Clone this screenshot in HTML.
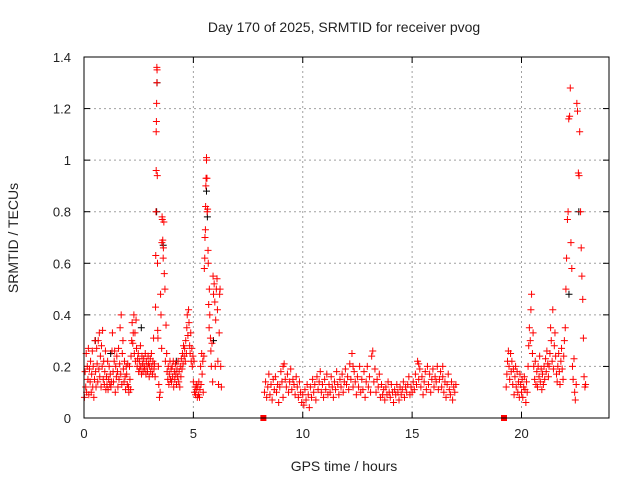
<!DOCTYPE html>
<html><head><meta charset="utf-8"><style>
html,body{margin:0;padding:0;background:#fff;}
svg{display:block;font-family:"Liberation Sans",sans-serif;}
</style></head><body>
<svg id="chart" width="640" height="480" viewBox="0 0 640 480">
<rect x="0" y="0" width="640" height="480" fill="#fff"/>
<text x="344" y="32" font-size="14" text-anchor="middle" fill="#222">Day 170 of 2025, SRMTID for receiver pvog</text>
<text x="0" y="0" font-size="14" text-anchor="middle" fill="#222" transform="translate(18,238) rotate(-90)">SRMTID / TECUs</text>
<text x="344" y="471" font-size="14" text-anchor="middle" fill="#222">GPS time / hours</text>
<g id="grid"></g>
<g id="ticks"></g>
<g id="marks"></g>
<rect x="84" y="57" width="525" height="361" fill="none" stroke="#000" stroke-width="1"/>
</svg>
<script>
const xTicks = [0, 5, 10, 15, 20];
const yTicks = [0, 0.2, 0.4, 0.6, 0.8, 1, 1.2, 1.4];
const yTickLabels = ["0", "0.2", "0.4", "0.6", "0.8", "1", "1.2", "1.4"];
const hours = [
0.02,0.05,0.08,0.1,0.12,0.15,0.18,0.2,0.22,0.25,
0.28,0.3,0.33,0.35,0.38,0.4,0.42,0.45,0.48,0.5,
0.53,0.55,0.58,0.6,0.63,0.65,0.68,0.7,0.72,0.75,
0.78,0.8,0.83,0.85,0.88,0.9,0.93,0.95,0.98,1.0,
1.03,1.05,1.08,1.1,1.13,1.15,1.18,1.2,1.23,1.25,
1.28,1.3,1.33,1.35,1.38,1.4,1.43,1.45,1.48,1.5,
1.53,1.55,1.58,1.6,1.63,1.65,1.68,1.7,1.73,1.75,
1.78,1.8,1.83,1.85,1.88,1.9,1.93,1.95,1.98,2.0,
2.03,2.05,2.08,2.1,2.13,2.15,2.18,2.2,2.23,2.25,
2.28,2.3,2.33,2.35,2.38,2.4,2.43,2.45,2.48,2.5,
2.53,2.55,2.58,2.6,2.63,2.65,2.68,2.7,2.73,2.75,
2.78,2.8,2.83,2.85,2.88,2.9,2.93,2.95,2.98,3.0,
3.03,3.05,3.08,3.1,3.13,3.15,3.18,3.2,3.22,3.25,
3.27,3.28,3.29,3.3,3.3,3.31,3.32,3.33,3.33,3.34,
3.35,3.36,3.37,3.38,3.4,3.42,3.45,3.48,3.5,3.52,
3.55,3.56,3.57,3.58,3.6,3.62,3.63,3.65,3.67,3.7,
3.72,3.75,3.78,3.8,3.83,3.85,3.88,3.9,3.93,3.95,
3.98,4.0,4.03,4.05,4.08,4.1,4.13,4.15,4.18,4.2,
4.23,4.25,4.28,4.3,4.33,4.35,4.38,4.4,4.43,4.45,
4.48,4.5,4.53,4.55,4.58,4.6,4.63,4.65,4.68,4.7,
4.72,4.75,4.78,4.8,4.83,4.85,4.88,4.9,4.93,4.95,
4.98,5.0,5.03,5.05,5.08,5.1,5.13,5.15,5.18,5.2,
5.23,5.25,5.28,5.3,5.33,5.35,5.38,5.4,5.43,5.45,
5.48,5.5,5.52,5.53,5.55,5.56,5.57,5.58,5.6,5.6,
5.62,5.63,5.65,5.67,5.68,5.7,5.72,5.73,5.75,5.78,
5.8,5.82,5.85,5.88,5.9,5.92,5.95,5.98,6.0,6.02,
6.05,6.08,6.1,6.12,6.15,6.18,6.2,6.22,6.25,6.28,
8.25,8.3,8.35,8.4,8.45,8.5,8.55,8.6,8.65,8.7,
8.75,8.8,8.85,8.9,8.95,9.0,9.05,9.1,9.15,9.2,
9.25,9.3,9.35,9.4,9.45,9.5,9.55,9.6,9.65,9.7,
9.75,9.8,9.85,9.9,9.95,10.0,10.05,10.1,10.15,10.2,
10.25,10.3,10.35,10.4,10.45,10.5,10.55,10.6,10.65,10.7,
10.75,10.8,10.85,10.9,10.95,11.0,11.05,11.1,11.15,11.2,
11.25,11.3,11.35,11.4,11.45,11.5,11.55,11.6,11.65,11.7,
11.75,11.8,11.85,11.9,11.95,12.0,12.05,12.1,12.15,12.2,
12.25,12.3,12.35,12.4,12.45,12.5,12.55,12.6,12.65,12.7,
12.75,12.8,12.85,12.9,12.95,13.0,13.05,13.1,13.15,13.2,
13.25,13.3,13.35,13.4,13.45,13.5,13.55,13.6,13.65,13.7,
13.75,13.8,13.85,13.9,13.95,14.0,14.05,14.1,14.15,14.2,
14.25,14.3,14.35,14.4,14.45,14.5,14.55,14.6,14.65,14.7,
14.75,14.8,14.85,14.9,14.95,15.0,15.05,15.1,15.15,15.2,
15.25,15.3,15.35,15.4,15.45,15.5,15.55,15.6,15.65,15.7,
15.75,15.8,15.85,15.9,15.95,16.0,16.05,16.1,16.15,16.2,
16.25,16.3,16.35,16.4,16.45,16.5,16.55,16.6,16.65,16.7,
16.75,16.8,16.85,16.9,16.95,17.0,16.4,12.3,9.1,15.3,
19.3,19.33,19.36,19.4,19.43,19.46,19.5,19.53,19.56,19.6,
19.63,19.66,19.7,19.73,19.76,19.8,19.83,19.86,19.9,19.93,
19.96,20.0,20.03,20.06,20.1,20.13,20.16,20.2,20.23,20.26,
20.3,20.33,20.36,20.4,20.43,20.46,20.5,20.53,20.56,20.6,
20.63,20.66,20.7,20.73,20.76,20.8,20.83,20.86,20.9,20.93,
20.96,21.0,21.03,21.06,21.1,21.13,21.16,21.2,21.23,21.26,
21.3,21.33,21.36,21.4,21.43,21.46,21.5,21.53,21.56,21.6,
21.63,21.66,21.7,21.73,21.76,21.8,21.83,21.86,21.9,21.93,
21.96,22.0,22.03,22.06,22.1,22.13,22.16,22.2,22.23,22.26,
22.3,22.33,22.36,22.4,22.43,22.46,22.5,22.53,22.56,22.6,
22.63,22.66,22.7,22.73,22.76,22.8,22.83,22.86,22.9,22.93
];
const tecu = [
0.08,0.18,0.12,0.25,0.1,0.2,0.15,0.27,0.09,0.19,
0.14,0.22,0.1,0.17,0.26,0.12,0.2,0.08,0.15,0.3,
0.18,0.12,0.27,0.21,0.14,0.3,0.19,0.33,0.16,0.24,
0.12,0.28,0.2,0.34,0.15,0.22,0.13,0.18,0.26,0.11,
0.16,0.13,0.22,0.11,0.15,0.2,0.13,0.17,0.12,0.14,
0.26,0.33,0.18,0.14,0.22,0.26,0.1,0.2,0.16,0.24,
0.18,0.12,0.27,0.15,0.21,0.35,0.17,0.4,0.13,0.25,
0.3,0.19,0.14,0.22,0.16,0.11,0.2,0.17,0.13,0.21,
0.12,0.1,0.2,0.15,0.11,0.24,0.3,0.37,0.29,0.33,
0.4,0.25,0.33,0.22,0.38,0.27,0.2,0.23,0.25,0.18,
0.22,0.19,0.28,0.2,0.17,0.24,0.21,0.18,0.23,0.2,
0.19,0.25,0.17,0.22,0.2,0.18,0.24,0.21,0.16,0.2,
0.23,0.18,0.25,0.2,0.17,0.22,0.31,0.19,0.21,0.16,
0.43,0.63,0.8,0.96,1.11,1.15,1.22,1.3,1.36,1.35,
0.94,0.6,0.34,0.31,0.2,0.13,0.08,0.1,0.48,0.4,
0.27,0.68,0.78,0.77,0.69,0.62,0.66,0.76,0.56,0.5,
0.22,0.36,0.25,0.18,0.15,0.2,0.13,0.17,0.22,0.15,
0.19,0.14,0.2,0.16,0.22,0.12,0.18,0.15,0.21,0.17,
0.13,0.19,0.16,0.22,0.14,0.18,0.12,0.2,0.16,0.23,
0.19,0.25,0.21,0.28,0.24,0.27,0.22,0.3,0.25,0.35,
0.4,0.32,0.42,0.37,0.28,0.25,0.33,0.22,0.27,0.2,
0.24,0.14,0.22,0.1,0.12,0.09,0.11,0.13,0.08,0.12,
0.09,0.14,0.08,0.11,0.2,0.13,0.25,0.17,0.22,0.1,
0.24,0.58,0.62,0.7,0.73,0.82,0.9,0.93,1.0,1.01,
0.93,0.8,0.81,0.65,0.6,0.44,0.35,0.5,0.4,0.31,
0.26,0.2,0.29,0.14,0.55,0.48,0.52,0.45,0.2,0.38,
0.5,0.54,0.42,0.22,0.13,0.33,0.48,0.5,0.2,0.12,
0.1,0.14,0.08,0.12,0.17,0.09,0.13,0.07,0.15,0.11,
0.16,0.1,0.13,0.06,0.12,0.18,0.14,0.08,0.21,0.15,
0.12,0.17,0.1,0.14,0.19,0.11,0.15,0.13,0.09,0.16,
0.12,0.08,0.14,0.1,0.06,0.09,0.05,0.11,0.07,0.13,
0.09,0.04,0.12,0.08,0.15,0.1,0.13,0.07,0.16,0.11,
0.14,0.18,0.1,0.13,0.08,0.15,0.11,0.17,0.09,0.13,
0.1,0.16,0.12,0.08,0.14,0.11,0.18,0.13,0.09,0.15,
0.12,0.17,0.1,0.14,0.19,0.13,0.16,0.11,0.21,0.15,
0.25,0.12,0.18,0.14,0.09,0.16,0.12,0.2,0.1,0.15,
0.11,0.18,0.08,0.14,0.2,0.12,0.16,0.1,0.24,0.26,
0.14,0.19,0.1,0.15,0.12,0.17,0.08,0.13,0.09,0.11,
0.07,0.12,0.09,0.14,0.1,0.08,0.13,0.1,0.06,0.11,
0.09,0.13,0.1,0.07,0.12,0.09,0.11,0.14,0.08,0.12,
0.1,0.13,0.16,0.09,0.12,0.1,0.14,0.11,0.17,0.13,
0.22,0.15,0.19,0.12,0.16,0.09,0.14,0.18,0.11,0.2,
0.13,0.17,0.1,0.15,0.19,0.12,0.16,0.14,0.2,0.11,
0.15,0.18,0.12,0.16,0.1,0.14,0.08,0.13,0.17,0.11,
0.09,0.14,0.07,0.12,0.1,0.13,0.2,0.2,0.2,0.21,
0.12,0.17,0.22,0.26,0.2,0.15,0.25,0.18,0.22,0.13,
0.19,0.09,0.16,0.2,0.12,0.18,0.1,0.14,0.08,0.17,
0.13,0.1,0.15,0.08,0.12,0.16,0.11,0.06,0.14,0.1,
0.2,0.28,0.35,0.3,0.42,0.48,0.25,0.33,0.2,0.15,
0.22,0.13,0.18,0.12,0.2,0.16,0.24,0.14,0.19,0.11,
0.17,0.13,0.2,0.15,0.23,0.18,0.26,0.21,0.16,0.2,
0.25,0.35,0.3,0.22,0.42,0.19,0.28,0.33,0.24,0.17,
0.14,0.2,0.25,0.18,0.13,0.22,0.27,0.19,0.15,0.24,
0.3,0.35,0.5,0.62,0.77,0.8,1.16,1.17,1.28,0.68,
0.58,0.2,0.15,0.23,0.1,0.07,0.13,1.22,1.19,0.95,
0.94,1.11,0.8,0.66,0.55,0.46,0.31,0.16,0.12,0.13
];
const blackHours = [3.3,3.32,3.6,5.58,5.62,22.15,22.6,0.5,1.2,2.6,4.2,5.9];
const blackTecu = [0.8,1.3,0.67,0.88,0.78,0.48,0.8,0.3,0.25,0.35,0.22,0.3];
const gapHours = [8.2, 19.2];
const gapTecu = [0, 0];

const X0 = 84, X1 = 609, Y0 = 418, Y1 = 57;
const xMax = 24, yMax = 1.4;
function xs(v){ return X0 + (v / xMax) * (X1 - X0); }
function ys(v){ return Y0 - (v / yMax) * (Y0 - Y1); }
const NS = "http://www.w3.org/2000/svg";
const grid = document.getElementById('grid');
const ticks = document.getElementById('ticks');
const marks = document.getElementById('marks');
function mk(tag, attrs, parent){
  const e = document.createElementNS(NS, tag);
  for (const k in attrs) e.setAttribute(k, attrs[k]);
  parent.appendChild(e);
  return e;
}
xTicks.forEach((t) => {
  const x = xs(t);
  if (t > 0) {
    const g = mk('line', {x1:x, y1:Y0, x2:x, y2:Y1, stroke:'#a0a0a0', 'stroke-dasharray':'2,3'}, grid);
    
    
  }
  const a = mk('line', {x1:x, y1:Y0, x2:x, y2:Y0-6, stroke:'#000'}, ticks);
  
  
  const b = mk('line', {x1:x, y1:Y1, x2:x, y2:Y1+6, stroke:'#000'}, ticks);
  
  
  const l = mk('text', {x:x, y:Y0+20, 'font-size':13, 'text-anchor':'middle', fill:'#222'}, ticks);
  l.textContent = String(t);
  
  
});
yTicks.forEach((t, i) => {
  const y = ys(t);
  if (t > 0 && t < yMax) {
    const g = mk('line', {x1:X0, y1:y, x2:X1, y2:y, stroke:'#a0a0a0', 'stroke-dasharray':'2,3'}, grid);
    
    
  }
  const a = mk('line', {x1:X0, y1:y, x2:X0+6, y2:y, stroke:'#000'}, ticks);
  
  
  const b = mk('line', {x1:X1, y1:y, x2:X1-6, y2:y, stroke:'#000'}, ticks);
  
  
  const l = mk('text', {x:X0-13, y:y+5, 'font-size':13, 'text-anchor':'end', fill:'#222'}, ticks);
  l.textContent = yTickLabels[i];
  
  
});
function plus(h, v, color, name){
  const x = xs(h), y = ys(v);
  const p = mk('path', {d:'M'+(x-3.5)+' '+y+'H'+(x+3.5)+'M'+x+' '+(y-3.5)+'V'+(y+3.5), stroke:color, 'stroke-width':1, fill:'none'}, marks);
  
  
}
blackHours.forEach((h, i) => plus(h + 0.02, blackTecu[i], '#000', 'srmtid-point-black'));
hours.forEach((h, i) => plus(h, tecu[i], '#ff0000', 'srmtid-point'));
gapHours.forEach((h, i) => {
  const s = mk('rect', {x:xs(h)-3, y:ys(gapTecu[i])-3, width:6, height:6, fill:'#ff0000'}, marks);
  
  
});
</script>
</body></html>
